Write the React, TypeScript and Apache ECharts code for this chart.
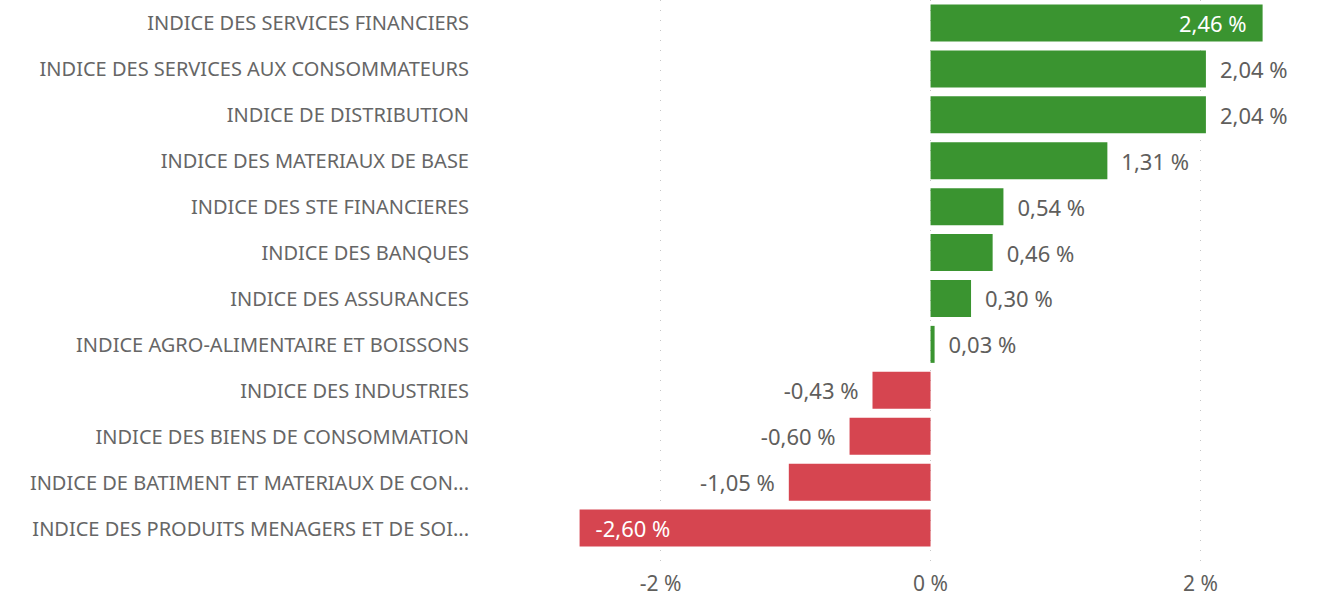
import React, { useEffect, useRef } from "react";
import * as echarts from "echarts";

const categories = [
  "INDICE DES SERVICES FINANCIERS",
  "INDICE DES SERVICES AUX CONSOMMATEURS",
  "INDICE DE DISTRIBUTION",
  "INDICE DES MATERIAUX DE BASE",
  "INDICE DES STE FINANCIERES",
  "INDICE DES BANQUES",
  "INDICE DES ASSURANCES",
  "INDICE AGRO-ALIMENTAIRE ET BOISSONS",
  "INDICE DES INDUSTRIES",
  "INDICE DES BIENS DE CONSOMMATION",
  "INDICE DE BATIMENT ET MATERIAUX DE CONSTRUCTION",
  "INDICE DES PRODUITS MENAGERS ET DE SOINS PERSONNELS",
];

const values = [2.46, 2.04, 2.04, 1.31, 0.54, 0.46, 0.3, 0.03, -0.43, -0.6, -1.05, -2.6];

const xTicks = [-2, 0, 2];

const GREEN = "#3A9430";
const RED = "#D64550";
const TEXT = "#605E5C";
const FONT = "'Segoe UI', 'Noto Sans', sans-serif";

const fmt = (v: number) => v.toFixed(2).replace(".", ",") + " %";

export default function App() {
  const ref = useRef<HTMLDivElement>(null);
  useEffect(() => {
    if (!ref.current) return;
    const chart = echarts.init(ref.current, undefined, { renderer: "svg" });
    const xMin = -3.36;
    const xMax = 2.7;
    const data = values.map((v) => {
      const inside = Math.abs(v) > 2.2;
      const pos = v >= 0 ? (inside ? "insideRight" : "right") : inside ? "insideLeft" : "left";
      return {
        value: v,
        itemStyle: { color: v >= 0 ? GREEN : RED },
        label: {
          show: true,
          position: pos,
          distance: inside ? 16 : 14,
          color: inside ? "#ffffff" : TEXT,
          fontSize: 22,
          fontFamily: FONT,
          formatter: () => fmt(v),
        },
      };
    });
    chart.setOption({
      animation: false,
      grid: [
        { left: 477, right: 32, top: -1, bottom: 49 },
        { left: 477, right: 32, top: 0, bottom: 36 },
      ],
      xAxis: [
        { type: "value", gridIndex: 0, min: xMin, max: xMax, show: false },
        {
          type: "value",
          gridIndex: 1,
          min: xMin,
          max: xMax,
          splitNumber: 3,
          axisLine: { show: false },
          axisTick: { show: false },
          axisLabel: {
            color: TEXT,
            fontSize: 21,
            fontFamily: FONT,
            margin: 8,
            showMinLabel: false,
            showMaxLabel: false,
            formatter: (v: number) =>
              xTicks.some((t) => Math.abs(t - v) < 1e-6) ? `${Math.round(v)} %` : "",
          },
          splitLine: {
            show: true,
            showMinLine: false,
            showMaxLine: false,
            lineStyle: { color: "#C8C8C8", width: 1, type: [1, 9] },
          },
        },
      ],
      yAxis: [
        {
          type: "category",
          gridIndex: 0,
          data: categories,
          inverse: true,
          axisLine: { show: false },
          axisTick: { show: false },
          splitLine: { show: false },
          axisLabel: {
            color: "#666666",
            fontSize: 20,
            fontFamily: FONT,
            margin: 8,
            width: 446,
            overflow: "truncate",
            ellipsis: "...",
          },
        },
        { type: "value", gridIndex: 1, show: false },
      ],
      series: [
        {
          type: "bar",
          xAxisIndex: 0,
          yAxisIndex: 0,
          barWidth: 37,
          data,
        },
      ],
    });
    return () => chart.dispose();
  }, []);
  return (
    <div
      ref={ref}
      style={{ position: "absolute", left: 0, top: 0, width: 1327, height: 600, background: "#fff" }}
    />
  );
}
